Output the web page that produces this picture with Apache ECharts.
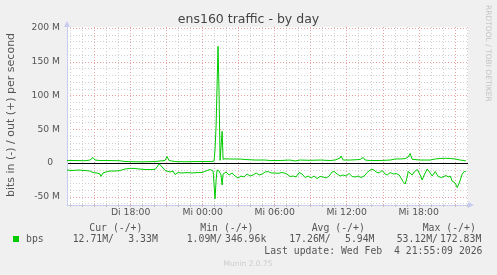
<!DOCTYPE html>
<html><head><meta charset="utf-8">
<script src="https://cdn.jsdelivr.net/npm/echarts@6/dist/echarts.min.js"></script>
<style>html,body{margin:0;padding:0;background:#F0F0F0;}#c{width:497px;height:275px;}</style>
</head><body><div id="c"></div>
<script>
// time in hours since Di (Tue) 00:00; values in Mbit/s
const xMin = 12.7, xMax = 46.1, yMin = -62.2, yMax = 201.5;
const hourTicks = [13,14,16,17,19,20,22,23,25,26,28,29,31,32,34,35,37,38,40,41,43,44,46];
const majorHourTicks = [15,18,21,24,27,30,33,36,39,42,45];
const xLabelValues = [18,24,30,36,42];
const xLabelTexts = ['Di 18:00','Mi 00:00','Mi 06:00','Mi 12:00','Mi 18:00'];
const yMinorTicks = [-60,-40,-30,-20,-10,10,20,30,40,60,70,80,90,110,120,130,140,160,170,180,190];
const yMajorTicks = [-50,0,50,100,150,200];

const outTimes = [12.70,13.37,14.20,14.62,14.87,15.03,15.45,16.28,17.12,17.53,18.37,19.20,20.03,20.45,20.87,21.03,21.20,21.70,22.53,23.37,24.20,24.78,24.95,25.03,25.12,25.20,25.28,25.37,25.45,25.53,25.62,25.70,25.87,26.28,27.12,27.53,28.37,29.20,29.62,30.45,31.28,31.70,32.12,32.95,33.78,34.62,35.03,35.45,35.53,35.70,36.28,37.12,37.37,37.53,37.95,38.78,39.62,40.03,40.45,40.87,41.12,41.28,41.45,42.12,42.95,43.37,43.78,44.20,44.62,45.03,45.45,45.92];
const outValues = [3.7,3.7,3.4,4.4,8.2,4.4,3.7,3.7,3.3,2.2,1.8,1.8,2.2,3.0,3.7,9.6,3.7,2.2,1.8,2.2,2.2,2.2,3.0,20,56,115,172.83,100,4,4.5,47,5.5,6.3,5.9,5.9,5.2,4.4,4.4,3.7,3.7,4.4,3.0,4.4,4.0,4.4,3.7,4.4,7.4,10.4,4.4,4.4,5.2,8.2,4.4,3.7,3.7,4.4,6.0,6.0,6.5,8.9,14.1,5.5,4.4,4.4,6.0,6.7,7.0,6.7,6.0,4.4,3.33];

const inTimes = [12.70,13.12,13.62,14.20,14.62,14.87,15.20,15.45,15.53,15.70,15.95,16.28,16.70,17.12,17.53,17.95,18.37,18.70,19.20,19.62,20.03,20.20,20.37,20.53,20.70,20.87,21.28,21.53,21.70,21.95,22.28,22.70,23.12,23.53,23.95,24.37,24.62,24.87,25.03,25.12,25.20,25.37,25.53,25.62,25.70,25.95,26.20,26.45,26.70,26.95,27.20,27.45,27.70,27.95,28.20,28.45,28.70,28.95,29.20,29.45,29.70,30.03,30.28,30.62,30.95,31.28,31.53,31.78,32.03,32.28,32.53,32.78,33.03,33.28,33.53,33.78,34.03,34.28,34.53,34.78,34.95,35.20,35.45,35.70,35.95,36.20,36.45,36.70,36.95,37.20,37.45,37.70,37.95,38.20,38.45,38.70,38.95,39.20,39.37,39.62,39.87,40.12,40.37,40.53,40.70,40.87,41.03,41.12,41.28,41.45,41.62,41.87,42.12,42.28,42.45,42.70,42.95,43.12,43.37,43.62,43.87,44.03,44.28,44.45,44.62,44.78,45.03,45.20,45.37,45.62,45.78,45.92];
const inValues = [-10.4,-11.1,-10.4,-11.1,-11.9,-14.1,-14.8,-16.3,-20.0,-14.8,-13.3,-11.9,-11.9,-11.1,-8.9,-7.9,-8.1,-8.9,-9.6,-9.6,-9.6,-5.9,-1.1,-1.5,-7.4,-11.1,-13.3,-11.9,-17.0,-14.1,-14.8,-14.1,-14.8,-14.1,-14.1,-11.1,-9.6,-11.9,-53.12,-25.2,-10.4,-11.9,-17.8,-32.6,-16.3,-13.3,-17.8,-14.8,-19.3,-22.2,-19.3,-20.7,-16.3,-19.3,-17.8,-14.8,-17.8,-16.3,-13.3,-12.6,-14.8,-14.8,-15.3,-14.1,-15.6,-20.0,-19.3,-20.7,-14.1,-16.3,-21.5,-19.3,-22.2,-19.3,-23.0,-20.0,-20.7,-22.2,-19.3,-13.3,-12.6,-16.3,-19.3,-17.8,-19.3,-15.6,-20.0,-20.7,-19.3,-21.5,-19.3,-14.1,-10.4,-9.3,-13.3,-14.8,-11.1,-16.3,-17.8,-14.1,-16.3,-15.6,-17.8,-19.3,-27.7,-31.1,-20.7,-12.6,-14.8,-17.8,-13.3,-9.6,-17.8,-25.2,-17.8,-8.9,-14.8,-19.3,-12.6,-20.0,-21.5,-22.2,-18.5,-20.7,-19.3,-26.7,-29.6,-36.3,-29.6,-16.3,-12.6,-12.71];

const legendHeaders = [['Cur (-/+)',89.3],['Min (-/+)',200.3],['Avg (-/+)',311.7],['Max (-/+)',422.7]];
const legendValues = [['12.71M/',72.7],['3.33M',128.3],['1.09M/',186.7],['346.96k',225],['17.26M/',289.3],['5.94M',345],['53.12M/',396.7],['172.83M',440]];

const GREEN = '#00CC00', TXT = '#555555', AXIS = '#C8CCF0';
const MONO = 'DejaVu Sans Mono', SANS = 'DejaVu Sans';
const minorGrid = {color:'#D0D0D0', type:[1,2], width:1};
const majorGrid = {color:'#E8A0A0', type:[1,2], width:1};

function xAx(extra){ return Object.assign({type:'value', min:xMin, max:xMax, position:'bottom', gridIndex:0,
  axisLine:{show:false,onZero:false}, axisTick:{show:false}, axisLabel:{show:false}, splitLine:{show:false}}, extra); }
function yAx(extra){ return Object.assign({type:'value', min:yMin, max:yMax, position:'left', gridIndex:0,
  axisLine:{show:false,onZero:false}, axisTick:{show:false}, axisLabel:{show:false}, splitLine:{show:false}}, extra); }

const chart = echarts.init(document.getElementById('c'), null, {renderer:'canvas'});
const graphics = [
  {type:'text', x:248.5, y:19.5, style:{text:'ens160 traffic - by day', font:'12.5px "DejaVu Sans"', fill:'#444', align:'center', verticalAlign:'middle'}},
  {type:'text', x:11, y:115, rotation:Math.PI/2, style:{text:'bits in (-) / out (+) per second', font:'11px "DejaVu Sans"', fill:TXT, align:'center', verticalAlign:'middle'}},
  {type:'text', x:488, y:5, rotation:-Math.PI/2, style:{text:'RRDTOOL / TOBI OETIKER', font:'7.5px "DejaVu Sans"', fill:'#C4C4C4', align:'left', verticalAlign:'middle'}},
  {type:'text', x:482.5, y:251, style:{text:'Last update: Wed Feb  4 21:55:09 2026', font:'9.8px "DejaVu Sans Mono"', fill:TXT, align:'right', verticalAlign:'middle'}},
  {type:'text', x:223.5, y:264.5, style:{text:'Munin 2.0.75', font:'7.5px "DejaVu Sans"', fill:'#CCCCCC', align:'left', verticalAlign:'middle'}}
];
legendHeaders.forEach(h => graphics.push({type:'text', x:h[1], y:228, style:{text:h[0], font:'9.8px "DejaVu Sans Mono"', fill:TXT, align:'left', verticalAlign:'middle'}}));
legendValues.forEach(h => graphics.push({type:'text', x:h[1], y:239.5, style:{text:h[0], font:'9.8px "DejaVu Sans Mono"', fill:TXT, align:'left', verticalAlign:'middle'}}));

chart.setOption({
  animation:false,
  backgroundColor:'#F0F0F0',
  grid:{left:67, right:29, top:27, bottom:70, show:true, backgroundColor:'#FFFFFF', borderWidth:0, containLabel:false, outerBoundsMode:'none'},
  legend:{left:13, top:234, itemWidth:6, itemHeight:6, icon:'rect', padding:0,
    textStyle:{fontFamily:MONO, fontSize:9.8, color:TXT, padding:[0,0,0,2]}, data:['bps']},
  xAxis:[
    xAx({axisLine:{show:true,onZero:false,lineStyle:{color:AXIS,width:1},symbol:['none','triangle'],symbolSize:[6,6],symbolOffset:[0,3]},
      axisTick:{show:true,customValues:hourTicks.concat(majorHourTicks),length:2,lineStyle:{color:'#C0C0C0'}},
      splitLine:{show:true,customValues:hourTicks,lineStyle:minorGrid}}),
    xAx({axisTick:{show:false,customValues:majorHourTicks}, splitLine:{show:true,lineStyle:majorGrid}}),
    xAx({axisTick:{show:false,customValues:xLabelValues}, axisLabel:{show:true,customValues:xLabelValues,margin:3,
      fontFamily:SANS,fontSize:9.3,color:TXT, formatter:v=>xLabelTexts[xLabelValues.indexOf(Math.round(v))]}})
  ],
  yAxis:[
    yAx({axisLine:{show:true,onZero:false,lineStyle:{color:AXIS,width:1},symbol:['none','triangle'],symbolSize:[6,6],symbolOffset:[0,3]},
      axisTick:{show:false,customValues:yMinorTicks}, splitLine:{show:true,lineStyle:minorGrid}}),
    yAx({axisTick:{show:false,customValues:yMajorTicks}, splitLine:{show:true,lineStyle:majorGrid},
      axisLabel:{show:true,customValues:yMajorTicks,margin:7,fontFamily:SANS,fontSize:9.2,color:TXT,
        formatter:v=> Math.round(v)===0 ? '{z|0}' : Math.round(v)+' M', rich:{z:{padding:[0,7,0,0],fontFamily:SANS,fontSize:9.2,color:TXT}}}}),
    yAx({axisTick:{show:false,customValues:[0]}, splitLine:{show:true,lineStyle:{color:'#000000',width:1,type:'solid'}}})
  ],
  graphic:graphics,
  series:[
    {name:'bps', type:'line', xAxisIndex:0, yAxisIndex:0, showSymbol:false, symbol:'none', color:GREEN,
      lineStyle:{color:GREEN,width:1}, data:outTimes.map((t,i)=>[t,outValues[i]]), z:3},
    {name:'bps', type:'line', xAxisIndex:0, yAxisIndex:0, showSymbol:false, symbol:'none', color:GREEN,
      lineStyle:{color:GREEN,width:1}, data:inTimes.map((t,i)=>[t,inValues[i]]), z:3}
  ]
});
</script></body></html>
